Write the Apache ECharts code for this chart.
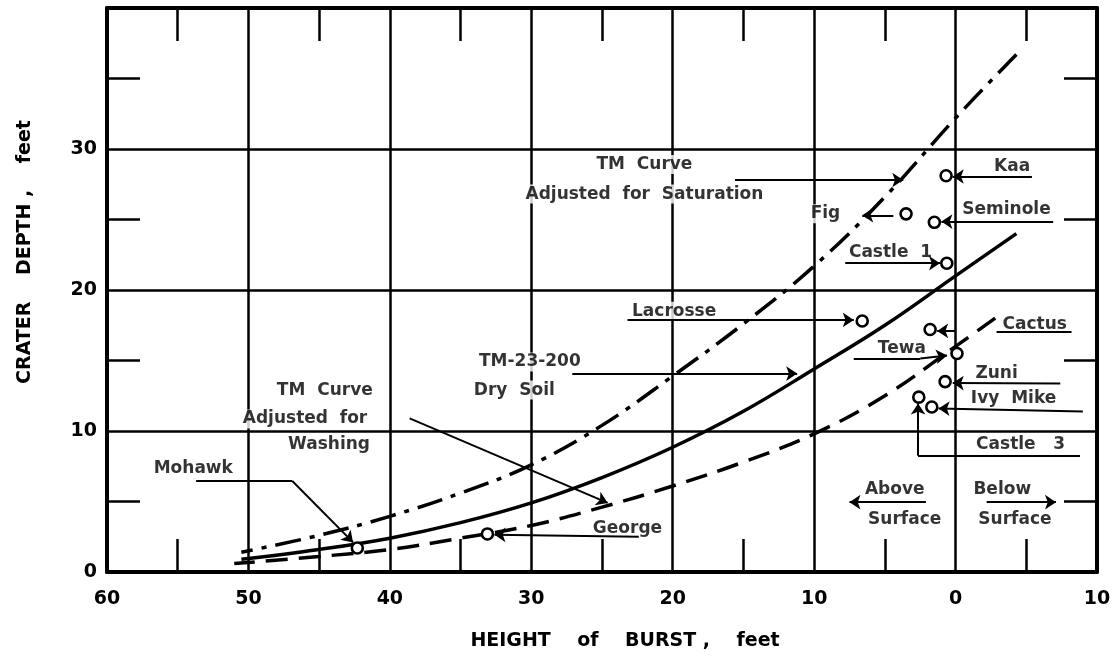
<!DOCTYPE html>
<html>
<head>
<meta charset="utf-8">
<script src="https://cdn.jsdelivr.net/npm/echarts@6/dist/echarts.min.js"></script>
<style>
  html, body { margin: 0; padding: 0; background: #fff; }
  #craterChart { width: 1119px; height: 659px; }
</style>
</head>
<body>
<div id="craterChart"></div>
<script>
  // x ticks (height of burst, ft) and y ticks (crater depth, ft)
  var xTicks = [60, 50, 40, 30, 20, 10, 0, -10];
  var yTicks = [0, 10, 20, 30, 40];

  // TM curve adjusted for saturation (dash-dot)
  var satX = [-4.3, 0, 5, 10, 15, 20, 25, 30, 35, 40, 45, 50.5];
  var satY = [36.7, 32.2, 26.6, 21.7, 17.6, 13.9, 10.4, 7.6, 5.6, 3.95, 2.6, 1.4];
  // TM-23-200 dry soil (solid)
  var dryX = [-4.3, 0, 5, 10, 15, 20, 25, 30, 35, 40, 45, 50.5];
  var dryY = [24.0, 21.0, 17.5, 14.4, 11.4, 8.85, 6.7, 4.9, 3.5, 2.4, 1.6, 0.9];
  // TM curve adjusted for washing (dashed)
  var washX = [-2.8, 0, 5, 10, 15, 20, 25, 30, 35, 40, 45, 51];
  var washY = [18.0, 16.0, 12.5, 9.8, 7.8, 6.1, 4.6, 3.3, 2.4, 1.6, 1.1, 0.6];

  // shots
  var shotNames = ['Kaa', 'Fig', 'Seminole', 'Castle 1', 'Lacrosse', 'Cactus', 'Tewa', 'Zuni', 'Castle 3', 'Ivy Mike', 'George', 'Mohawk'];
  var shotX = [0.67, 3.5, 1.5, 0.62, 6.6, 1.8, -0.1, 0.74, 2.6, 1.68, 33.1, 42.3];
  var shotY = [28.1, 25.4, 24.8, 21.9, 17.8, 17.2, 15.5, 13.5, 12.4, 11.7, 2.7, 1.7];

  // annotation texts [text, x, y]
  var noteTexts = [
    ['TM  Curve', 22, 28.9],
    ['Adjusted  for  Saturation', 22, 26.8],
    ['Fig', 9.2, 25.4],
    ['Kaa', -4.0, 28.75],
    ['Seminole', -3.6, 25.7],
    ['Castle  1', 4.6, 22.65],
    ['Lacrosse', 19.9, 18.5],
    ['Cactus', -5.6, 17.55],
    ['Tewa', 3.8, 15.85],
    ['Zuni', -2.9, 14.05],
    ['Ivy  Mike', -4.1, 12.3],
    ['Castle   3', -4.6, 9.05],
    ['TM-23-200', 30.1, 14.9],
    ['Dry  Soil', 31.2, 12.9],
    ['TM  Curve', 44.6, 12.9],
    ['Adjusted  for', 46.0, 10.85],
    ['Washing', 44.3, 9.05],
    ['Mohawk', 53.9, 7.3],
    ['George', 23.2, 3.1],
    ['Above', 4.3, 5.85],
    ['Surface', 3.6, 3.7],
    ['Below', -3.3, 5.85],
    ['Surface', -4.2, 3.7]
  ];

  // leader lines without heads [[x1,y1],[x2,y2]]
  var plainLeaders = [
    [[-2.9, 17.05], [-8.2, 17.05]],
    [[7.2, 15.14], [2.5, 15.14]],
    [[-8.8, 8.24], [2.65, 8.24]],
    [[53.7, 6.45], [46.9, 6.45]]
  ];
  // leader lines ending in an arrow head
  var arrowLeaders = [
    [[15.6, 27.8], [3.7, 27.8]],
    [[4.4, 25.3], [6.6, 25.3]],
    [[-5.4, 28.05], [0.2, 28.05]],
    [[-6.9, 24.85], [1.0, 24.85]],
    [[7.8, 21.9], [1.1, 21.9]],
    [[23.2, 17.88], [7.2, 17.88]],
    [[0.0, 17.1], [1.3, 17.1]],
    [[2.5, 15.14], [0.6, 15.35]],
    [[-7.4, 13.36], [0.2, 13.4]],
    [[-9.0, 11.38], [1.2, 11.6]],
    [[2.65, 8.24], [2.65, 11.95]],
    [[46.9, 6.45], [42.6, 2.1]],
    [[22.4, 2.5], [32.6, 2.65]],
    [[27.1, 14.07], [11.2, 14.07]],
    [[38.6, 10.9], [24.6, 4.9]],
    [[2.1, 4.95], [7.5, 4.95]],
    [[-2.2, 4.95], [-7.1, 4.95]]
  ];

  function pairs(xs, ys) {
    return xs.map(function (x, i) { return [x, ys[i]]; });
  }

  var font = 'DejaVu Sans';
  var chart = echarts.init(document.getElementById('craterChart'));

  var frameAxis = {
    type: 'value',
    axisLine: { onZero: false, lineStyle: { color: '#000', width: 4 } },
    axisTick: { show: false, inside: true },
    minorTick: { show: true, splitNumber: 2, length: 33, lineStyle: { color: '#000', width: 2.5 } },
    axisLabel: { show: false },
    splitLine: { show: false }
  };

  var option = {
    animation: false,
    backgroundColor: '#fff',
    grid: { left: 107, right: 22, top: 8, bottom: 87 },
    xAxis: [
      Object.assign({}, frameAxis, {
        position: 'bottom',
        min: xTicks[xTicks.length - 1], max: xTicks[0], interval: 10, inverse: true,
        splitLine: { show: true, lineStyle: { color: '#000', width: 2.5 } },
        axisLabel: {
          show: true, margin: 18, color: '#000', fontSize: 19, fontWeight: 'bold', fontFamily: font,
          formatter: function (v) { return Math.abs(v); }
        },
        name: 'HEIGHT    of    BURST ,    feet',
        nameLocation: 'middle', nameGap: 60,
        nameTextStyle: { color: '#000', fontSize: 19, fontWeight: 'bold', fontFamily: font, padding: [0, 0, 0, 46] }
      }),
      Object.assign({}, frameAxis, {
        position: 'top',
        min: xTicks[xTicks.length - 1], max: xTicks[0], interval: 10, inverse: true
      })
    ],
    yAxis: [
      Object.assign({}, frameAxis, {
        position: 'left',
        min: yTicks[0], max: yTicks[yTicks.length - 1], interval: 10,
        splitLine: { show: true, lineStyle: { color: '#000', width: 2.5 } },
        axisLabel: {
          show: true, margin: 10, color: '#000', fontSize: 19, fontWeight: 'bold', fontFamily: font,
          formatter: function (v) { return v === 40 ? '' : v; }
        },
        name: 'CRATER    DEPTH ,    feet',
        nameLocation: 'middle', nameGap: 72, nameRotate: 90,
        nameTextStyle: { color: '#000', fontSize: 19, fontWeight: 'bold', fontFamily: font, padding: [0, 0, 0, 76] }
      }),
      Object.assign({}, frameAxis, {
        position: 'right',
        min: yTicks[0], max: yTicks[yTicks.length - 1], interval: 10
      })
    ],
    series: [
      {
        name: 'labels',
        type: 'scatter',
        z: 2,
        symbolSize: 1,
        itemStyle: { color: 'transparent' },
        data: noteTexts.map(function (t) { return { name: t[0], value: [t[1], t[2]] }; }),
        label: {
          show: true, position: 'inside', formatter: '{b}',
          color: '#000', fontSize: 17, fontWeight: 'bold', fontFamily: font,
          textBorderWidth: 0, backgroundColor: '#fff', padding: [1, 3]
        },
        silent: true
      },
      {
        name: 'TM Curve Adjusted for Saturation',
        type: 'line', z: 3, smooth: 0.4, showSymbol: false,
        lineStyle: { color: '#000', width: 3.5, type: [26, 9, 5, 9] },
        data: pairs(satX, satY)
      },
      {
        name: 'TM-23-200 Dry Soil',
        type: 'line', z: 3, smooth: 0.4, showSymbol: false,
        lineStyle: { color: '#000', width: 3.5 },
        data: pairs(dryX, dryY)
      },
      {
        name: 'TM Curve Adjusted for Washing',
        type: 'line', z: 3, smooth: 0.4, showSymbol: false,
        lineStyle: { color: '#000', width: 3.5, type: [22, 11] },
        data: pairs(washX, washY)
      },
      {
        type: 'lines', coordinateSystem: 'cartesian2d', z: 4,
        symbol: ['none', 'none'],
        lineStyle: { color: '#000', width: 2, opacity: 1 },
        data: plainLeaders.map(function (c) { return { coords: c }; })
      },
      {
        type: 'lines', coordinateSystem: 'cartesian2d', z: 4,
        symbol: ['none', 'arrow'], symbolSize: 11,
        lineStyle: { color: '#000', width: 2, opacity: 1 },
        data: arrowLeaders.map(function (c) { return { coords: c }; })
      },
      {
        name: 'shots',
        type: 'scatter', z: 5,
        symbol: 'circle', symbolSize: 11,
        itemStyle: { color: '#fff', borderColor: '#000', borderWidth: 2.6, opacity: 1 },
        data: shotNames.map(function (n, i) { return { name: n, value: [shotX[i], shotY[i]] }; })
      }
    ]
  };

  chart.setOption(option);
</script>
</body>
</html>
